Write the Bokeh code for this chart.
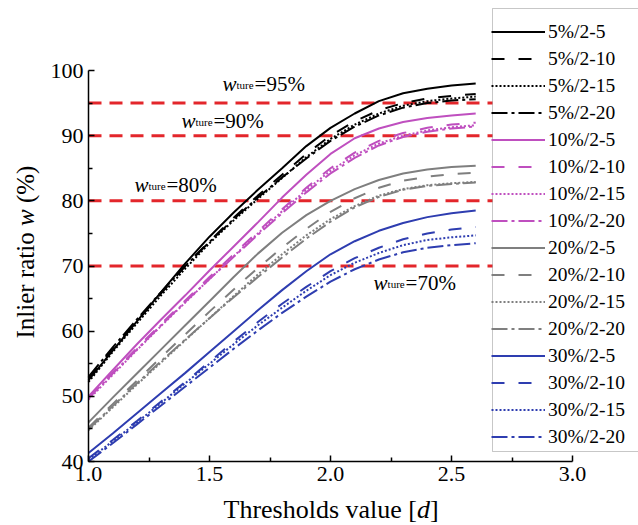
from bokeh.plotting import figure
from bokeh.models import (FixedTicker, PrintfTickFormatter, Legend, LegendItem,
                          Label, BoxAnnotation)
from bokeh.embed import file_html
from bokeh.resources import INLINE

# Threshold values (in units of d)
thresholds = [1.0, 1.1, 1.2, 1.3, 1.4, 1.5, 1.6, 1.7, 1.8, 1.9,
              2.0, 2.1, 2.2, 2.3, 2.4, 2.5, 2.6]

# Inlier ratio w (%) -- 5% noise
w_5_2_5 = [52.5, 57.0, 61.5, 66.0, 70.4, 74.5, 78.2, 81.7, 85.0, 88.4,
           91.2, 93.4, 95.3, 96.5, 97.2, 97.7, 98.0]
w_5_2_10 = [52.8, 57.2, 61.5, 65.8, 70.0, 73.8, 77.4, 80.8, 84.0, 87.2,
            90.0, 92.2, 93.9, 95.0, 95.7, 96.1, 96.4]
w_5_2_15 = [52.2, 56.8, 61.2, 65.5, 69.6, 73.5, 77.0, 80.3, 83.5, 86.7,
            89.5, 91.7, 93.4, 94.6, 95.3, 95.7, 96.0]
w_5_2_20 = [53.0, 57.5, 61.8, 66.0, 70.0, 73.7, 77.2, 80.5, 83.6, 86.5,
            89.2, 91.4, 93.1, 94.3, 95.0, 95.4, 95.6]

# 10% noise
w_10_2_5 = [50.0, 54.0, 58.0, 61.8, 65.5, 69.3, 73.0, 76.7, 80.5, 84.0,
            87.2, 89.6, 91.1, 92.1, 92.7, 93.1, 93.4]
w_10_2_10 = [49.8, 53.6, 57.4, 61.1, 64.7, 68.3, 71.8, 75.3, 78.7, 82.0,
             85.0, 87.4, 89.2, 90.4, 91.2, 91.7, 92.0]
w_10_2_15 = [49.5, 53.3, 57.1, 60.8, 64.4, 68.0, 71.5, 75.0, 78.4, 81.7,
             84.6, 87.0, 88.8, 90.0, 90.8, 91.3, 91.6]
w_10_2_20 = [49.7, 53.5, 57.2, 60.9, 64.5, 68.0, 71.4, 74.8, 78.1, 81.3,
             84.2, 86.6, 88.5, 89.8, 90.6, 91.1, 91.4]

# 20% noise
w_20_2_5 = [46.0, 49.8, 53.5, 57.2, 60.9, 64.6, 68.3, 71.9, 75.1, 77.8,
            80.0, 81.8, 83.2, 84.2, 84.8, 85.2, 85.4]
w_20_2_10 = [45.2, 48.8, 52.4, 56.0, 59.5, 63.0, 66.4, 69.7, 72.8, 75.7,
             78.3, 80.4, 82.0, 83.1, 83.7, 84.1, 84.3]
w_20_2_15 = [44.8, 48.3, 51.8, 55.2, 58.6, 62.0, 65.4, 68.7, 71.8, 74.7,
             77.2, 79.2, 80.8, 81.8, 82.4, 82.7, 82.9]
w_20_2_20 = [45.0, 48.5, 52.0, 55.4, 58.7, 62.0, 65.2, 68.3, 71.3, 74.2,
             76.8, 79.0, 80.6, 81.7, 82.3, 82.6, 82.8]

# 30% noise
w_30_2_5 = [41.3, 44.3, 47.4, 50.5, 53.6, 56.8, 60.0, 63.2, 66.3, 69.2,
            71.8, 73.8, 75.4, 76.6, 77.5, 78.1, 78.5]
w_30_2_10 = [40.5, 43.3, 46.2, 49.2, 52.2, 55.3, 58.4, 61.4, 64.2, 66.8,
             69.2, 71.2, 72.8, 74.1, 75.0, 75.6, 76.0]
w_30_2_15 = [40.3, 43.1, 46.0, 49.0, 52.0, 55.0, 58.0, 60.9, 63.6, 66.2,
             68.6, 70.5, 72.0, 73.2, 74.0, 74.4, 74.7]
w_30_2_20 = [40.0, 42.8, 45.7, 48.6, 51.5, 54.4, 57.3, 60.1, 62.8, 65.3,
             67.6, 69.5, 71.0, 72.1, 72.8, 73.2, 73.5]

series_labels = ["5%/2-5", "5%/2-10", "5%/2-15", "5%/2-20",
                 "10%/2-5", "10%/2-10", "10%/2-15", "10%/2-20",
                 "20%/2-5", "20%/2-10", "20%/2-15", "20%/2-20",
                 "30%/2-5", "30%/2-10", "30%/2-15", "30%/2-20"]
series_values = [w_5_2_5, w_5_2_10, w_5_2_15, w_5_2_20,
                 w_10_2_5, w_10_2_10, w_10_2_15, w_10_2_20,
                 w_20_2_5, w_20_2_10, w_20_2_15, w_20_2_20,
                 w_30_2_5, w_30_2_10, w_30_2_15, w_30_2_20]

# True inlier ratios marked as reference lines
true_ratios = [95, 90, 80, 70]
true_ratio_texts = ["=95%", "=90%", "=80%", "=70%"]
# anchor (data coords) of each "w_ture=..." note
note_x = [1.554, 1.384, 1.19, 2.178]
note_y = [96.9, 91.1, 81.3, 66.3]

group_colors = ["#000000", "#bf4fbf", "#7f7f7f", "#2e3db0"]
dash_styles = ["solid", "13 14", "2 2", "16 4 3 4"]

SERIF = "Liberation Serif"

# Canvas geometry: the frame fills the whole canvas, axes are pinned
# at x=1.0 / y=40 so that legend and titles may sit anywhere on it.
W, H = 638, 525
X0, X1, PX0, PX1 = 1.0, 3.0, 88, 572
Y0, Y1, PY0, PY1 = 40.0, 100.0, 461, 70
sx = (PX1 - PX0) / (X1 - X0)
sy = (PY0 - PY1) / (Y1 - Y0)
x_range = (X0 - PX0 / sx, X1 + (W - PX1) / sx)
y_range = (Y0 - (H - PY0) / sy, Y1 + PY1 / sy)

p = figure(width=W, height=H, x_range=x_range, y_range=y_range,
           output_backend="svg", toolbar_location=None,
           min_border=0)
p.outline_line_color = None
p.grid.visible = False
p.background_fill_color = "white"
p.border_fill_color = "white"

# axes
p.xaxis.fixed_location = Y0
p.yaxis.fixed_location = X0
p.xaxis.bounds = (X0, X1)
p.yaxis.bounds = (Y0, Y1)
p.xaxis.ticker = FixedTicker(ticks=[1.0, 1.5, 2.0, 2.5, 3.0],
                             minor_ticks=[1.25, 1.75, 2.25, 2.75])
p.xaxis.formatter = PrintfTickFormatter(format="%.1f")
p.yaxis.ticker = FixedTicker(ticks=[40, 50, 60, 70, 80, 90, 100],
                             minor_ticks=[45, 55, 65, 75, 85, 95])
for ax in (p.xaxis, p.yaxis):
    ax.axis_line_width = 1.5
    ax.axis_line_color = "black"
    ax.major_tick_in = 6
    ax.major_tick_out = 0
    ax.minor_tick_in = 4
    ax.minor_tick_out = 0
    ax.major_tick_line_width = 1.5
    ax.minor_tick_line_width = 1.5
    ax.major_tick_line_color = "black"
    ax.minor_tick_line_color = "black"
    ax.major_label_text_font = SERIF
    ax.major_label_text_font_size = "22px"
    ax.major_label_text_color = "black"
    ax.major_label_standoff = 5

# dashed reference lines
p.segment(x0=[X0] * len(true_ratios), x1=[X1] * len(true_ratios),
          y0=true_ratios, y1=true_ratios, line_color="#e3262b",
          line_width=3, line_dash="13 8")

# curves
items = []
for i, (lab, vals) in enumerate(zip(series_labels, series_values)):
    color = group_colors[i // 4]
    dash = dash_styles[i % 4]
    r = p.line(thresholds, vals, line_color=color, line_width=2, line_dash=dash)
    items.append(LegendItem(label=lab, renderers=[r]))

# legend panel: open on the right, running off the canvas edge
legend_box = BoxAnnotation(left=492, right=W + 60, top=H - 8, bottom=H - 451,
                           left_units="screen", right_units="screen",
                           top_units="screen", bottom_units="screen",
                           fill_color="white", fill_alpha=1.0,
                           line_color="#444444", line_width=1)
p.add_layout(legend_box)

legend = Legend(items=items, location=(491, H - 450), margin=0, padding=5,
                spacing=0, glyph_width=54, glyph_height=27, label_height=27,
                label_standoff=3, label_text_font=SERIF,
                label_text_font_size="19.5px", label_text_color="black",
                border_line_color=None, background_fill_alpha=0.0)
p.add_layout(legend)

# "w_ture=..." notes
for xv, yv, txt in zip(note_x, note_y, true_ratio_texts):
    p.add_layout(Label(x=xv, y=yv, y_offset=7, text="w", text_font=SERIF,
                       text_font_style="italic", text_font_size="21px",
                       text_color="black", text_baseline="alphabetic"))
    p.add_layout(Label(x=xv, y=yv, x_offset=14, y_offset=6, text="ture",
                       text_font=SERIF, text_font_size="11px",
                       text_color="black", text_baseline="alphabetic"))
    p.add_layout(Label(x=xv, y=yv, x_offset=32, y_offset=7, text=txt,
                       text_font=SERIF, text_font_size="21px",
                       text_color="black", text_baseline="alphabetic"))

# axis titles (italic symbols set separately)
x_title_parts = [("Thresholds value [", "normal", 0), ("d", "italic", 193.5),
                 ("]", "normal", 206.5)]
for txt, style, dx in x_title_parts:
    p.add_layout(Label(x=223 + dx, y=16, x_units="screen", y_units="screen",
                       text=txt, text_font=SERIF, text_font_style=style,
                       text_font_size="26px", text_color="black",
                       text_baseline="alphabetic"))

y_title_parts = [("Inlier ratio ", "normal", 0), ("w", "italic", 112.5),
                 ("(%)", "normal", 135.4)]
for txt, style, dy in y_title_parts:
    p.add_layout(Label(x=25, y=H - 338 + dy, x_units="screen", y_units="screen",
                       angle=1.5707963, text=txt, text_font=SERIF,
                       text_font_style=style, text_font_size="25px",
                       text_color="black", text_baseline="alphabetic"))

open("out.html", "w").write(file_html(p, INLINE))
